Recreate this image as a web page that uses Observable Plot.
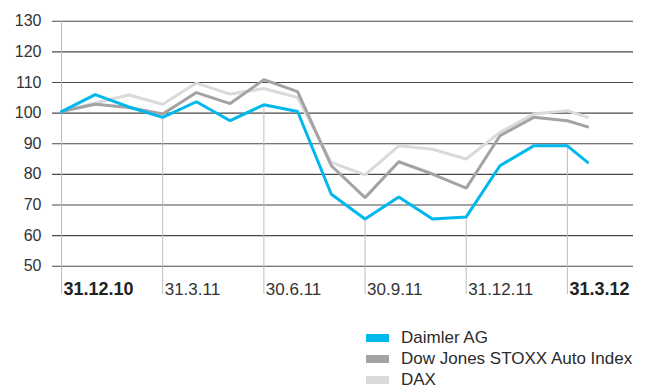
<!DOCTYPE html>
<html>
<head>
<meta charset="utf-8">
<script src="https://cdn.jsdelivr.net/npm/d3@7"></script>
<script src="https://cdn.jsdelivr.net/npm/@observablehq/plot@0.6"></script>
<style>
  html, body { margin: 0; padding: 0; background: #fff; }
  body { width: 646px; height: 390px; position: relative; overflow: hidden;
         font-family: "Liberation Sans", Arial, Helvetica, sans-serif; }
  #chart { position: absolute; left: 0; top: 0; }
  #legend { position: absolute; left: 366px; top: 327px; }
  .row { display: flex; align-items: center; height: 21px; }
  .sw { width: 23px; height: 8px; margin-right: 12px; }
  .lb { font-size: 17px; color: #2b2b2b; line-height: 17px; }
</style>
</head>
<body>
<div id="chart"></div>
<div id="legend"></div>
<script>
// ---- data ----
const monthIndex = [0, 1, 2, 3, 4, 5, 6, 7, 8, 9, 10, 11, 12, 13, 14, 15, 15.6];
const daimler = [100.5, 106.0, 102.0, 98.6, 103.7, 97.5, 102.7, 100.5, 73.5, 65.4, 72.6, 65.4, 66.1, 82.8, 89.3, 89.3, 83.9];
const stoxx   = [100.5, 102.9, 101.8, 99.7, 106.7, 103.1, 110.9, 107.0, 82.8, 72.4, 84.1, 80.1, 75.5, 92.6, 98.6, 97.5, 95.5];
const dax     = [100.5, 103.3, 105.9, 102.9, 109.8, 106.2, 108.0, 105.1, 83.9, 79.8, 89.3, 88.2, 85.0, 93.7, 99.7, 100.8, 98.6];
const quarterIndex = [0, 3, 6, 9, 12, 15];
const quarterLabels = ["31.12.10", "31.3.11", "30.6.11", "30.9.11", "31.12.11", "31.3.12"];
const boldLabels = ["31.12.10", "31.3.12"];
const yTicks = [50, 60, 70, 80, 90, 100, 110, 120, 130];
const seriesNames = ["Daimler AG", "Dow Jones STOXX Auto Index", "DAX"];
const seriesColors = ["#00b8ec", "#a3a3a6", "#dadadc"];

// ---- build tables ----
const table = (vals) => monthIndex.map((m, i) => ({ m, v: vals[i] }));
const dDaimler = table(daimler), dStoxx = table(stoxx), dDax = table(dax);
const yMin = d3.min(yTicks), yMax = d3.max(yTicks);
const labelBase = yMin - 9.25; // a bit below the bottom gridline, in value units
const quarters = quarterIndex.map((q, i) => ({
  m: q,
  label: quarterLabels[i],
  top: i === 0 ? yMax : daimler[monthIndex.indexOf(q)],
  bold: boldLabels.includes(quarterLabels[i])
}));

const chart = Plot.plot({
  width: 646,
  height: 310,
  marginLeft: 52,
  marginRight: 13,
  marginTop: 20.7,
  marginBottom: 44.3,
  style: { fontFamily: '"Liberation Sans", Arial, Helvetica, sans-serif', background: "#fff", overflow: "visible" },
  x: { domain: [-0.267, 16.96], axis: null },
  y: { domain: [yMin, yMax], axis: null },
  marks: [
    Plot.ruleY(yTicks, { stroke: "#4a4a4a", strokeWidth: 1.1 }),
    Plot.ruleX(quarters, { x: "m", y1: "top", y2: labelBase, stroke: "#bdbdbd", strokeWidth: 1 }),
    Plot.text(yTicks, { x: -0.267, y: d => d, text: d => String(d), textAnchor: "end", dx: -11, fontSize: 16, fill: "#333" }),
    Plot.text(quarters.filter(d => !d.bold), { x: "m", y: labelBase, text: "label", textAnchor: "start", lineAnchor: "bottom", dx: 2, fontSize: 17, fill: "#333" }),
    Plot.text(quarters.filter(d => d.bold), { x: "m", y: labelBase, text: "label", textAnchor: "start", lineAnchor: "bottom", dx: 2, fontSize: 18, fontWeight: "bold", fill: "#222" }),
    Plot.line(dDax, { x: "m", y: "v", stroke: seriesColors[2], strokeWidth: 3, strokeLinejoin: "miter" }),
    Plot.line(dStoxx, { x: "m", y: "v", stroke: seriesColors[1], strokeWidth: 3, strokeLinejoin: "miter" }),
    Plot.line(dDaimler, { x: "m", y: "v", stroke: seriesColors[0], strokeWidth: 3, strokeLinejoin: "miter" })
  ]
});
document.getElementById("chart").appendChild(chart);

const legend = document.getElementById("legend");
seriesNames.forEach((name, i) => {
  const row = document.createElement("div");
  row.className = "row";
  const sw = document.createElement("div");
  sw.className = "sw";
  sw.style.background = seriesColors[i];
  const lb = document.createElement("div");
  lb.className = "lb";
  lb.textContent = name;
  row.appendChild(sw);
  row.appendChild(lb);
  legend.appendChild(row);
});
</script>
</body>
</html>
